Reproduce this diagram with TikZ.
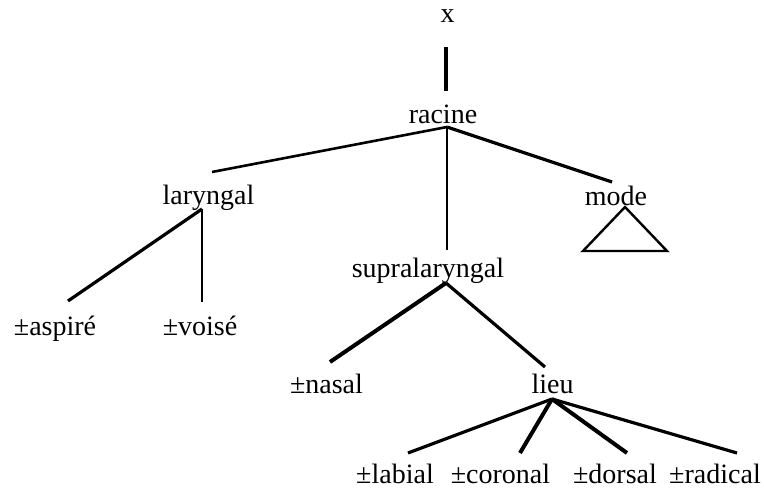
\documentclass[tikz,border=0pt]{standalone}
\usepackage{fontspec}
\setmainfont{Liberation Serif}
\begin{document}
\begin{tikzpicture}[x=1pt,y=-1pt,
  lbl/.style={inner sep=0pt,anchor=base,font=\fontsize{28}{34}\selectfont},
  br/.style={line width=2.6pt},
  brthick/.style={line width=4pt},
  brmid/.style={line width=3.2pt}]
\useasboundingbox (0,0) rectangle (764,489);
% labels
\node[lbl] (x) at (447.5,23) {x};
\node[lbl] (racine) at (443,124) {racine};
\node[lbl] (laryngal) at (208.5,205) {laryngal};
\node[lbl] (supra) at (428,278) {supralaryngal};
\node[lbl] (mode) at (616,206) {mode};
\node[lbl] (aspire) at (55,336) {±aspiré};
\node[lbl] (voise) at (200,336) {±voisé};
\node[lbl] (nasal) at (326.5,393) {±nasal};
\node[lbl] (lieu) at (552.5,393) {lieu};
\node[lbl] (labial) at (395,483) {±labial};
\node[lbl] (coronal) at (500.5,483) {±coronal};
\node[lbl] (dorsal) at (615,483) {±dorsal};
\node[lbl] (radical) at (715,483) {±radical};
% junction points
\coordinate (xj) at (446,47);
\coordinate (rtop) at (446,91);
\coordinate (rj) at (447,127);
\coordinate (lj) at (202,209);
\coordinate (sj) at (446,283);
\coordinate (lieuj) at (552,399);
% connector ends
\coordinate (le) at (212,172);
\coordinate (se) at (447,250);
\coordinate (me) at (612,182);
\coordinate (ae) at (68,301);
\coordinate (ve) at (202,302);
\coordinate (ne) at (330,362);
\coordinate (lie) at (545,367);
\coordinate (lab) at (408,453);
\coordinate (cor) at (520,453);
\coordinate (dor) at (627,453);
\coordinate (rad) at (737,453);
% connectors
\draw[brthick] (xj) -- (rtop);
\draw[br] (rj) -- (le);
\draw[br] (rj) -- (se);
\draw[brmid] (rj) -- (me);
\draw[brmid] (lj) -- (ae);
\draw[br] (lj) -- (ve);
\draw[brthick] (sj) -- (ne);
\draw[brmid] (sj) -- (lie);
\draw[brmid] (lieuj) -- (lab);
\draw[brthick] (lieuj) -- (cor);
\draw[brthick] (lieuj) -- (dor);
\draw[brmid] (lieuj) -- (rad);
% mode triangle
\coordinate (tapex) at (625,207);
\coordinate (tl) at (583,251);
\coordinate (tr) at (667,251);
\draw[line width=2.4pt,line join=miter] (tapex) -- (tl) -- (tr) -- cycle;
\end{tikzpicture}
\end{document}
